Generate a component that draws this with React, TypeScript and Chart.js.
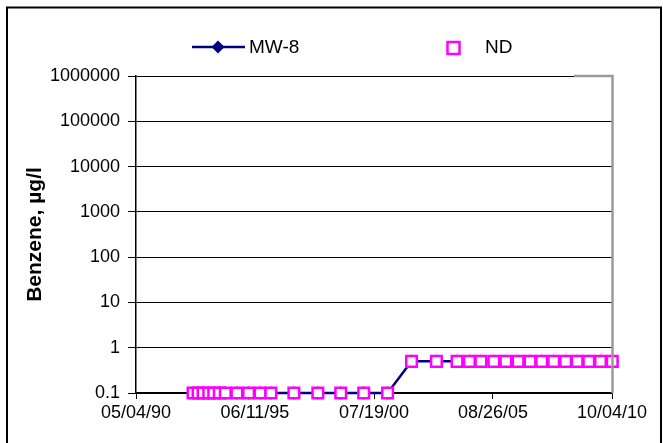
import React, { useEffect, useRef } from 'react';
import { Chart, registerables } from 'chart.js';

Chart.register(...registerables);

const seriesLabels = ['MW-8', 'ND'];

const sampleDates = [
  '1992-10-14', '1993-01-01', '1993-03-20', '1993-06-17', '1993-09-03', '1993-11-29',
  '1994-03-03', '1994-09-01', '1995-03-03', '1995-08-31', '1996-02-15', '1997-02-10',
  '1998-02-20', '1999-02-14', '2000-02-09', '2001-02-17',
  '2002-02-27', '2003-03-24', '2004-02-10', '2004-08-21', '2005-02-18', '2005-09-09',
  '2006-03-16', '2006-09-24', '2007-03-30', '2007-09-29', '2008-04-04', '2008-10-08',
  '2009-04-06', '2009-10-06', '2010-04-07', '2010-10-08',
];

const mw8Values = [
  0.1, 0.1, 0.1, 0.1, 0.1, 0.1, 0.1, 0.1, 0.1, 0.1, 0.1, 0.1, 0.1, 0.1, 0.1, 0.1,
  0.5, 0.5, 0.5, 0.5, 0.5, 0.5, 0.5, 0.5, 0.5, 0.5, 0.5, 0.5, 0.5, 0.5, 0.5, 0.5,
];

const ndValues = [
  0.1, 0.1, 0.1, 0.1, 0.1, 0.1, 0.1, 0.1, 0.1, 0.1, 0.1, 0.1, 0.1, 0.1, 0.1, 0.1,
  0.5, 0.5, 0.5, 0.5, 0.5, 0.5, 0.5, 0.5, 0.5, 0.5, 0.5, 0.5, 0.5, 0.5, 0.5, 0.5,
];

const xTickLabels = ['05/04/90', '06/11/95', '07/19/00', '08/26/05', '10/04/10'];
const yTickValues = [0.1, 1, 10, 100, 1000, 10000, 100000, 1000000];
const yTickLabels = ['0.1', '1', '10', '100', '1000', '10000', '100000', '1000000'];
const yAxisTitle = 'Benzene, µg/l';

const DAY = 86400000;
const BASE = Date.UTC(1990, 4, 4);
const isoToDay = (iso: string) => (Date.parse(iso + 'T00:00:00Z') - BASE) / DAY;
const labelToDay = (lbl: string) => {
  const [mm, dd, yy] = lbl.split('/').map(Number);
  const year = yy < 50 ? 2000 + yy : 1900 + yy;
  return (Date.UTC(year, mm - 1, dd) - BASE) / DAY;
};
const xTickValues = xTickLabels.map(labelToDay);

const FONT = 'Liberation Sans, Arial, Helvetica, sans-serif';

const decorPlugin = {
  id: 'decor',
  afterDraw(chart: any) {
    const ctx = chart.ctx as CanvasRenderingContext2D;
    const area = chart.chartArea;
    ctx.save();
    // plot area gray border (right + top-right)
    ctx.strokeStyle = '#9a9a9a';
    ctx.lineWidth = 2.5;
    ctx.beginPath();
    ctx.moveTo(574, area.top);
    ctx.lineTo(area.right + 0.5, area.top);
    ctx.lineTo(area.right + 0.5, area.bottom);
    ctx.stroke();

    // legend
    const ly = 47;
    ctx.strokeStyle = '#000080';
    ctx.lineWidth = 2.5;
    ctx.beginPath();
    ctx.moveTo(192, ly);
    ctx.lineTo(245, ly);
    ctx.stroke();
    ctx.fillStyle = '#000080';
    ctx.beginPath();
    ctx.moveTo(218, ly - 6.5);
    ctx.lineTo(224.5, ly);
    ctx.lineTo(218, ly + 6.5);
    ctx.lineTo(211.5, ly);
    ctx.closePath();
    ctx.fill();

    ctx.fillStyle = '#000';
    ctx.font = `19px ${FONT}`;
    ctx.textBaseline = 'middle';
    ctx.textAlign = 'left';
    ctx.fillText(chart.data.datasets[0].label, 249, ly + 1);

    ctx.strokeStyle = '#FF00FF';
    ctx.lineWidth = 2.5;
    ctx.fillStyle = '#fff';
    ctx.fillRect(447.5, 42, 12, 12);
    ctx.strokeRect(447.5, 42, 12, 12);
    ctx.fillStyle = '#000';
    ctx.fillText(chart.data.datasets[1].label, 485, ly + 1);

    // outer frame
    ctx.strokeStyle = '#000';
    ctx.lineWidth = 2;
    ctx.strokeRect(7, 7.5, 654, 445);
    ctx.restore();
  },
};

export default function App() {
  const ref = useRef<HTMLCanvasElement | null>(null);

  useEffect(() => {
    if (!ref.current) return;
    const xs = sampleDates.map(isoToDay);
    const chart = new Chart(ref.current, {
      type: 'line',
      data: {
        datasets: [
          {
            label: seriesLabels[0],
            data: xs.map((x, i) => ({ x, y: mw8Values[i] })),
            borderColor: '#000080',
            backgroundColor: '#000080',
            borderWidth: 2.5,
            pointStyle: 'rectRot',
            pointRadius: 5,
            pointBackgroundColor: '#000080',
            pointBorderColor: '#000080',
            order: 1,
            clip: false,
          },
          {
            label: seriesLabels[1],
            data: xs.map((x, i) => ({ x, y: ndValues[i] })),
            showLine: false,
            pointStyle: 'rect',
            pointRadius: 7.5,
            pointBorderWidth: 2.5,
            pointBorderColor: '#FF00FF',
            pointBackgroundColor: '#FFFFFF',
            borderColor: '#FF00FF',
            backgroundColor: '#FFFFFF',
            order: 0,
            clip: false,
          },
        ],
      },
      options: {
        responsive: false,
        animation: false,
        devicePixelRatio: 1,
        layout: { padding: { left: 0, top: 76, right: 51, bottom: 0 } },
        plugins: {
          legend: { display: false },
          tooltip: { enabled: false },
        },
        scales: {
          x: {
            type: 'linear',
            min: xTickValues[0],
            max: xTickValues[xTickValues.length - 1],
            afterBuildTicks: (scale: any) => {
              scale.ticks = xTickValues.map((v) => ({ value: v }));
            },
            afterFit: (scale: any) => {
              scale.height = 50;
            },
            ticks: {
              autoSkip: false,
              maxRotation: 0,
              padding: 3,
              color: '#000',
              font: { family: FONT, size: 18 },
              callback: (_v: any, i: number) => xTickLabels[i],
            },
            grid: {
              drawOnChartArea: false,
              drawTicks: true,
              tickLength: 6,
              color: '#000',
              lineWidth: 1,
            },
            border: { display: true, color: '#000', width: 1.5 },
          },
          y: {
            type: 'logarithmic',
            min: yTickValues[0],
            max: yTickValues[yTickValues.length - 1],
            afterBuildTicks: (scale: any) => {
              scale.ticks = yTickValues.map((v) => ({ value: v, major: true }));
            },
            afterFit: (scale: any) => {
              scale.width = 136;
            },
            ticks: {
              autoSkip: false,
              padding: 8,
              color: '#000',
              font: { family: FONT, size: 18 },
              callback: (_v: any, i: number) => yTickLabels[i],
            },
            grid: {
              drawOnChartArea: true,
              drawTicks: true,
              tickLength: 8,
              color: '#000',
              lineWidth: 1,
            },
            border: { display: true, color: '#000', width: 1.5 },
            title: {
              display: true,
              text: yAxisTitle,
              color: '#000',
              font: { family: FONT, size: 21, weight: 'bold' },
              padding: { top: 23, bottom: 0 },
            },
          },
        },
      },
      plugins: [decorPlugin],
    } as any);
    return () => chart.destroy();
  }, []);

  return (
    <div style={{ position: 'fixed', left: 0, top: 0, width: 663, height: 443, background: '#fff' }}>
      <canvas ref={ref} width={663} height={443} style={{ display: 'block', width: 663, height: 443 }} />
    </div>
  );
}
